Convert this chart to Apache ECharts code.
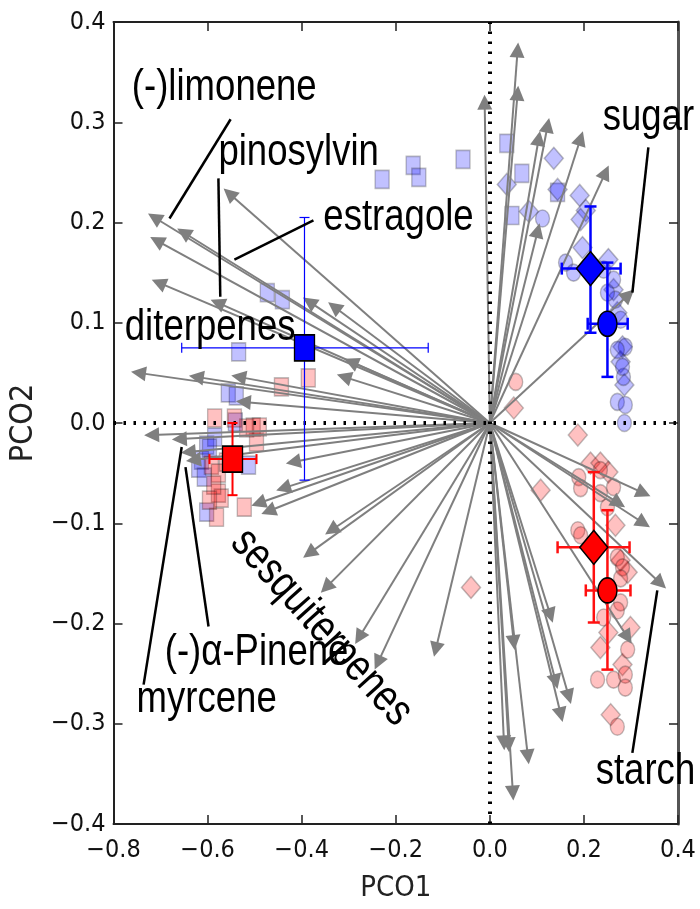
<!DOCTYPE html>
<html>
<head>
<meta charset="utf-8">
<script src="https://cdn.jsdelivr.net/npm/echarts@6/dist/echarts.min.js"></script>
<style>
html,body{margin:0;padding:0;background:#fff;}
#chart{width:700px;height:909px;}
</style>
</head>
<body>
<div id="chart"></div>
<script>
// loading vectors: every arrow starts at the origin and ends at these tips
var arrowTips = [
  [-0.713,0.205],[-0.651,0.190],[-0.708,0.182],[-0.704,0.140],[-0.554,0.229],[-0.579,0.120],
  [-0.384,0.121],[-0.331,0.116],[-0.747,0.050],[-0.624,0.046],[-0.534,0.046],[-0.524,0.021],
  [-0.310,0.046],[-0.295,0.061],[-0.719,-0.012],[-0.660,-0.016],[-0.641,-0.029],[-0.630,-0.037],
  [-0.418,-0.039],[-0.439,-0.065],[-0.471,-0.088],[-0.492,-0.080],[-0.337,-0.107],[-0.384,-0.130],
  [-0.348,-0.164],[-0.278,-0.214],[-0.238,-0.239],[-0.115,-0.226],
  [0.030,-0.319],[0.040,-0.321],[0.081,-0.333],[0.049,-0.369],[0.051,-0.219],[0.129,-0.192],
  [0.140,-0.258],[0.168,-0.273],[0.151,-0.291],
  [0.327,-0.070],[0.274,-0.080],[0.327,-0.100],[0.363,-0.160],[0.293,-0.214],
  [0.059,0.372],[0.059,0.329],[-0.011,0.320],[0.123,0.297],[0.104,0.284],[0.193,0.284],
  [0.246,0.250],[0.102,0.192],[0.295,0.128]
];

// individual samples
var blueSquares = [
  [-0.229,0.243],[-0.163,0.257],[-0.151,0.245],[-0.057,0.263],[0.036,0.279],[0.068,0.249],
  [0.047,0.207],[0.144,0.230],[-0.473,0.130],[-0.441,0.123],[-0.534,0.071],[-0.556,0.030],
  [-0.539,0.027],[-0.541,0.001],[-0.602,-0.022],[-0.613,-0.037],[-0.619,-0.045],[-0.513,-0.042],
  [-0.602,-0.089],[-0.585,-0.014],[-0.596,-0.025],[-0.607,-0.054]
];
var redSquares = [
  [-0.443,0.036],[-0.386,0.045],[-0.585,0.005],[-0.503,-0.004],[-0.496,-0.019],[-0.592,-0.042],
  [-0.577,-0.050],[-0.577,-0.070],[-0.571,-0.075],[-0.581,-0.094],[-0.522,-0.084],[-0.490,-0.004],
  [-0.517,-0.005],[-0.543,0.005],[-0.560,-0.039],[-0.587,-0.062],[-0.596,-0.077]
];
var blueDiamonds = [
  [0.136,0.264],[0.036,0.238],[0.083,0.211],[0.191,0.227],[0.204,0.212],[0.193,0.203],
  [0.144,0.233],[0.197,0.175],[0.252,0.163],[0.271,0.110],[0.282,0.076],[0.278,0.061],
  [0.286,0.038],[0.263,0.133]
];
var blueCircles = [
  [0.112,0.204],[0.161,0.160],[0.178,0.150],[0.263,0.143],[0.267,0.123],[0.278,0.103],
  [0.288,0.076],[0.271,0.073],[0.284,0.046],[0.271,0.021],[0.288,0.018],[0.286,0.000],
  [0.282,0.056],[0.250,0.130],[0.242,0.153]
];
var redDiamonds = [
  [0.051,0.015],[0.187,-0.012],[0.108,-0.067],[0.214,-0.040],[0.235,-0.040],[0.252,-0.049],
  [0.267,-0.102],[0.293,-0.149],[0.278,-0.137],[0.299,-0.204],[0.235,-0.224],[0.252,-0.209],
  [0.282,-0.241],[0.257,-0.291],[-0.040,-0.164]
];
var redCircles = [
  [0.055,0.041],[0.189,-0.054],[0.193,-0.065],[0.263,-0.064],[0.235,-0.070],[0.250,-0.084],
  [0.187,-0.107],[0.193,-0.112],[0.271,-0.134],[0.282,-0.144],[0.278,-0.155],[0.278,-0.179],
  [0.271,-0.187],[0.242,-0.194],[0.293,-0.226],[0.229,-0.256],[0.263,-0.256],[0.288,-0.251],
  [0.288,-0.264],[0.271,-0.303],[0.235,-0.047]
];

// group means: [x, y, xLow, xHigh, yLow, yHigh]
var blueSquareMean = [[-0.394,0.075,-0.655,-0.131,-0.057,0.205]];
var redSquareMean = [[-0.547,-0.036,-0.596,-0.496,-0.072,0.000]];
var blueDiamondMean = [[0.214,0.154,0.153,0.278,0.090,0.216]];
var blueCircleMean = [[0.250,0.099,0.208,0.293,0.046,0.160]];
var redDiamondMean = [[0.221,-0.124,0.144,0.297,-0.199,-0.049]];
var redCircleMean = [[0.250,-0.167,0.204,0.299,-0.246,-0.087]];

// annotations
var labelTexts = ['(-)limonene','pinosylvin','estragole','diterpenes','sugar','starch','(-)\u03b1-Pinene','myrcene'];
var labelPos = [[-0.761,0.335],[-0.577,0.270],[-0.354,0.205],[-0.776,0.095],[0.240,0.305],[0.225,-0.348],[-0.691,-0.229],[-0.751,-0.276]];
var leaderLines = [
  [[-0.551,0.303],[-0.681,0.204]],
  [[-0.577,0.244],[-0.573,0.126]],
  [[-0.375,0.202],[-0.543,0.163]],
  [[0.337,0.275],[0.303,0.130]],
  [[0.303,-0.329],[0.356,-0.167]],
  [[-0.598,-0.203],[-0.647,-0.044]],
  [[-0.736,-0.261],[-0.655,-0.024]]
];
var rotatedLabel = ['sesquiterpenes', -0.358, -0.204, -48];

var xTicks = [-0.8,0.4,0.2];
var yTicks = [-0.4,0.4,0.1];

var ELLIPSE = 'path://M0,-1A1,1,0,1,1,0,1A1,1,0,1,1,0,-1Z';
var tickFont = "'DejaVu Sans Condensed','DejaVu Sans',sans-serif";
var annFont = "'Liberation Sans',Arial,sans-serif";

function fmt(v){
  var s = Math.abs(v).toFixed(1);
  return (v < -1e-9 ? '\u2212' : '') + s;
}

function lightScatter(data, symbol, size, rgb){
  return {
    type:'scatter', data:data, symbol:symbol, symbolSize:size, z:2, silent:true,
    itemStyle:{color:'rgba('+rgb+',0.3)', borderColor:'rgba(30,30,30,0.35)', borderWidth:1.5}
  };
}

function meanScatter(data, symbol, size, color){
  return {
    type:'scatter', data:data.map(function(d){return [d[0],d[1]];}), symbol:symbol, symbolSize:size, z:6, silent:true,
    itemStyle:{color:color, borderColor:'#000', borderWidth:1.5, opacity:1}
  };
}

function errorBars(data, color, width, cap){
  return {
    type:'custom', data:data, z:5, silent:true,
    encode:{x:[0,2,3], y:[1,4,5]},
    renderItem:function(params, api){
      var c = api.coord([api.value(0), api.value(1)]);
      var xl = api.coord([api.value(2), api.value(1)]);
      var xh = api.coord([api.value(3), api.value(1)]);
      var yl = api.coord([api.value(0), api.value(4)]);
      var yh = api.coord([api.value(0), api.value(5)]);
      var st = {stroke:color, lineWidth:width, fill:null};
      function seg(x1,y1,x2,y2){ return {type:'line', shape:{x1:x1,y1:y1,x2:x2,y2:y2}, style:st}; }
      return {type:'group', children:[
        seg(xl[0],c[1],xh[0],c[1]),
        seg(c[0],yl[1],c[0],yh[1]),
        seg(xl[0],c[1]-cap,xl[0],c[1]+cap),
        seg(xh[0],c[1]-cap,xh[0],c[1]+cap),
        seg(c[0]-cap,yl[1],c[0]+cap,yl[1]),
        seg(c[0]-cap,yh[1],c[0]+cap,yh[1])
      ]};
    }
  };
}

var chart = echarts.init(document.getElementById('chart'), null, {renderer:'canvas'});

var axisLine = {show:true, onZero:false, lineStyle:{color:'#222', width:2}};
var axisTick = {show:true, inside:true, length:9, lineStyle:{color:'#222', width:1.5}};

var option = {
  backgroundColor:'#fff',
  animation:false,
  grid:{left:112, right:22, top:22, bottom:85, containLabel:false},
  xAxis:[{
    type:'value', min:xTicks[0], max:xTicks[1], interval:xTicks[2], position:'bottom',
    name:'PCO1', nameLocation:'middle', nameGap:50,
    nameTextStyle:{fontFamily:tickFont, fontSize:29, color:'#222'},
    axisLine:axisLine, axisTick:axisTick, splitLine:{show:false},
    axisLabel:{formatter:fmt, fontFamily:tickFont, fontSize:25, color:'#111', margin:14}
  },{
    type:'value', min:xTicks[0], max:xTicks[1], interval:xTicks[2], position:'top',
    axisLine:axisLine, axisTick:axisTick, splitLine:{show:false}, axisLabel:{show:false}
  }],
  yAxis:[{
    type:'value', min:yTicks[0], max:yTicks[1], interval:yTicks[2], position:'left',
    name:'PCO2', nameLocation:'middle', nameGap:73, nameRotate:90,
    nameTextStyle:{fontFamily:tickFont, fontSize:32, color:'#222'},
    axisLine:axisLine, axisTick:axisTick, splitLine:{show:false},
    axisLabel:{formatter:fmt, fontFamily:tickFont, fontSize:25, color:'#111', margin:8}
  },{
    type:'value', min:yTicks[0], max:yTicks[1], interval:yTicks[2], position:'right',
    axisLine:{show:true, onZero:false, lineStyle:{color:'#555', width:3}}, axisTick:axisTick,
    splitLine:{show:false}, axisLabel:{show:false}
  }],
  series:[
    {
      type:'scatter', data:[], z:1, silent:true,
      markLine:{
        silent:true, symbol:'none', label:{show:false}, animation:false,
        lineStyle:{color:'#000', width:4, type:[2.5,7.5]},
        data:[{xAxis:0},{yAxis:0}]
      }
    },
    lightScatter(blueSquares,'rect',[14,18],'0,0,255'),
    lightScatter(redSquares,'rect',[14,18],'255,0,0'),
    lightScatter(blueDiamonds,'diamond',[19,22],'0,0,255'),
    lightScatter(blueCircles,ELLIPSE,[14,17],'0,0,255'),
    lightScatter(redDiamonds,'diamond',[19,22],'255,0,0'),
    lightScatter(redCircles,ELLIPSE,[14,17],'255,0,0'),
    {
      type:'lines', coordinateSystem:'cartesian2d', z:3, silent:true,
      symbol:['none','triangle'], symbolSize:15,
      lineStyle:{color:'#7f7f7f', width:2, opacity:1},
      itemStyle:{color:'#7f7f7f'},
      data:arrowTips.map(function(p){ return {coords:[[0,0],p]}; })
    },
    errorBars(blueSquareMean,'#0000ff',1.2,5),
    errorBars(redSquareMean,'#ff0000',2,5),
    errorBars(blueDiamondMean,'#0000ff',2.5,6),
    errorBars(blueCircleMean,'#0000ff',2.5,6),
    errorBars(redDiamondMean,'#ff1010',2.5,6),
    errorBars(redCircleMean,'#ff1010',2.5,6),
    meanScatter(blueSquareMean,'rect',[20,26],'#0000ff'),
    meanScatter(redSquareMean,'rect',[20,26],'#ff0000'),
    meanScatter(blueDiamondMean,'diamond',[28,34],'#0000ff'),
    meanScatter(blueCircleMean,ELLIPSE,[19,25],'#0000ff'),
    meanScatter(redDiamondMean,'diamond',[28,34],'#ff0000'),
    meanScatter(redCircleMean,ELLIPSE,[19,25],'#ff0000'),
    {
      type:'lines', coordinateSystem:'cartesian2d', z:7, silent:true,
      symbol:['none','none'],
      lineStyle:{color:'#000', width:2.5, opacity:1},
      data:leaderLines.map(function(l){ return {coords:l}; })
    }
  ]
};

chart.setOption(option);

// annotation texts, placed at data positions, drawn narrower like the original figure
function annText(text, p, rot, align){
  var px = chart.convertToPixel({gridIndex:0}, p);
  return {
    type:'text', x:px[0], y:px[1], z:100, silent:true,
    scaleX:0.85, scaleY:1.05, rotation:(rot || 0) * Math.PI / 180,
    style:{
      text:text, fill:'#000', fontFamily:annFont, fontSize:43,
      align:align, verticalAlign:'middle', textAlign:align, textVerticalAlign:'middle'
    }
  };
}
var gfx = labelTexts.map(function(t, i){ return annText(t, labelPos[i], 0, 'left'); });
gfx.push(annText(rotatedLabel[0], [rotatedLabel[1], rotatedLabel[2]], rotatedLabel[3], 'center'));
chart.setOption({graphic:{elements:gfx}});
</script>
</body>
</html>
